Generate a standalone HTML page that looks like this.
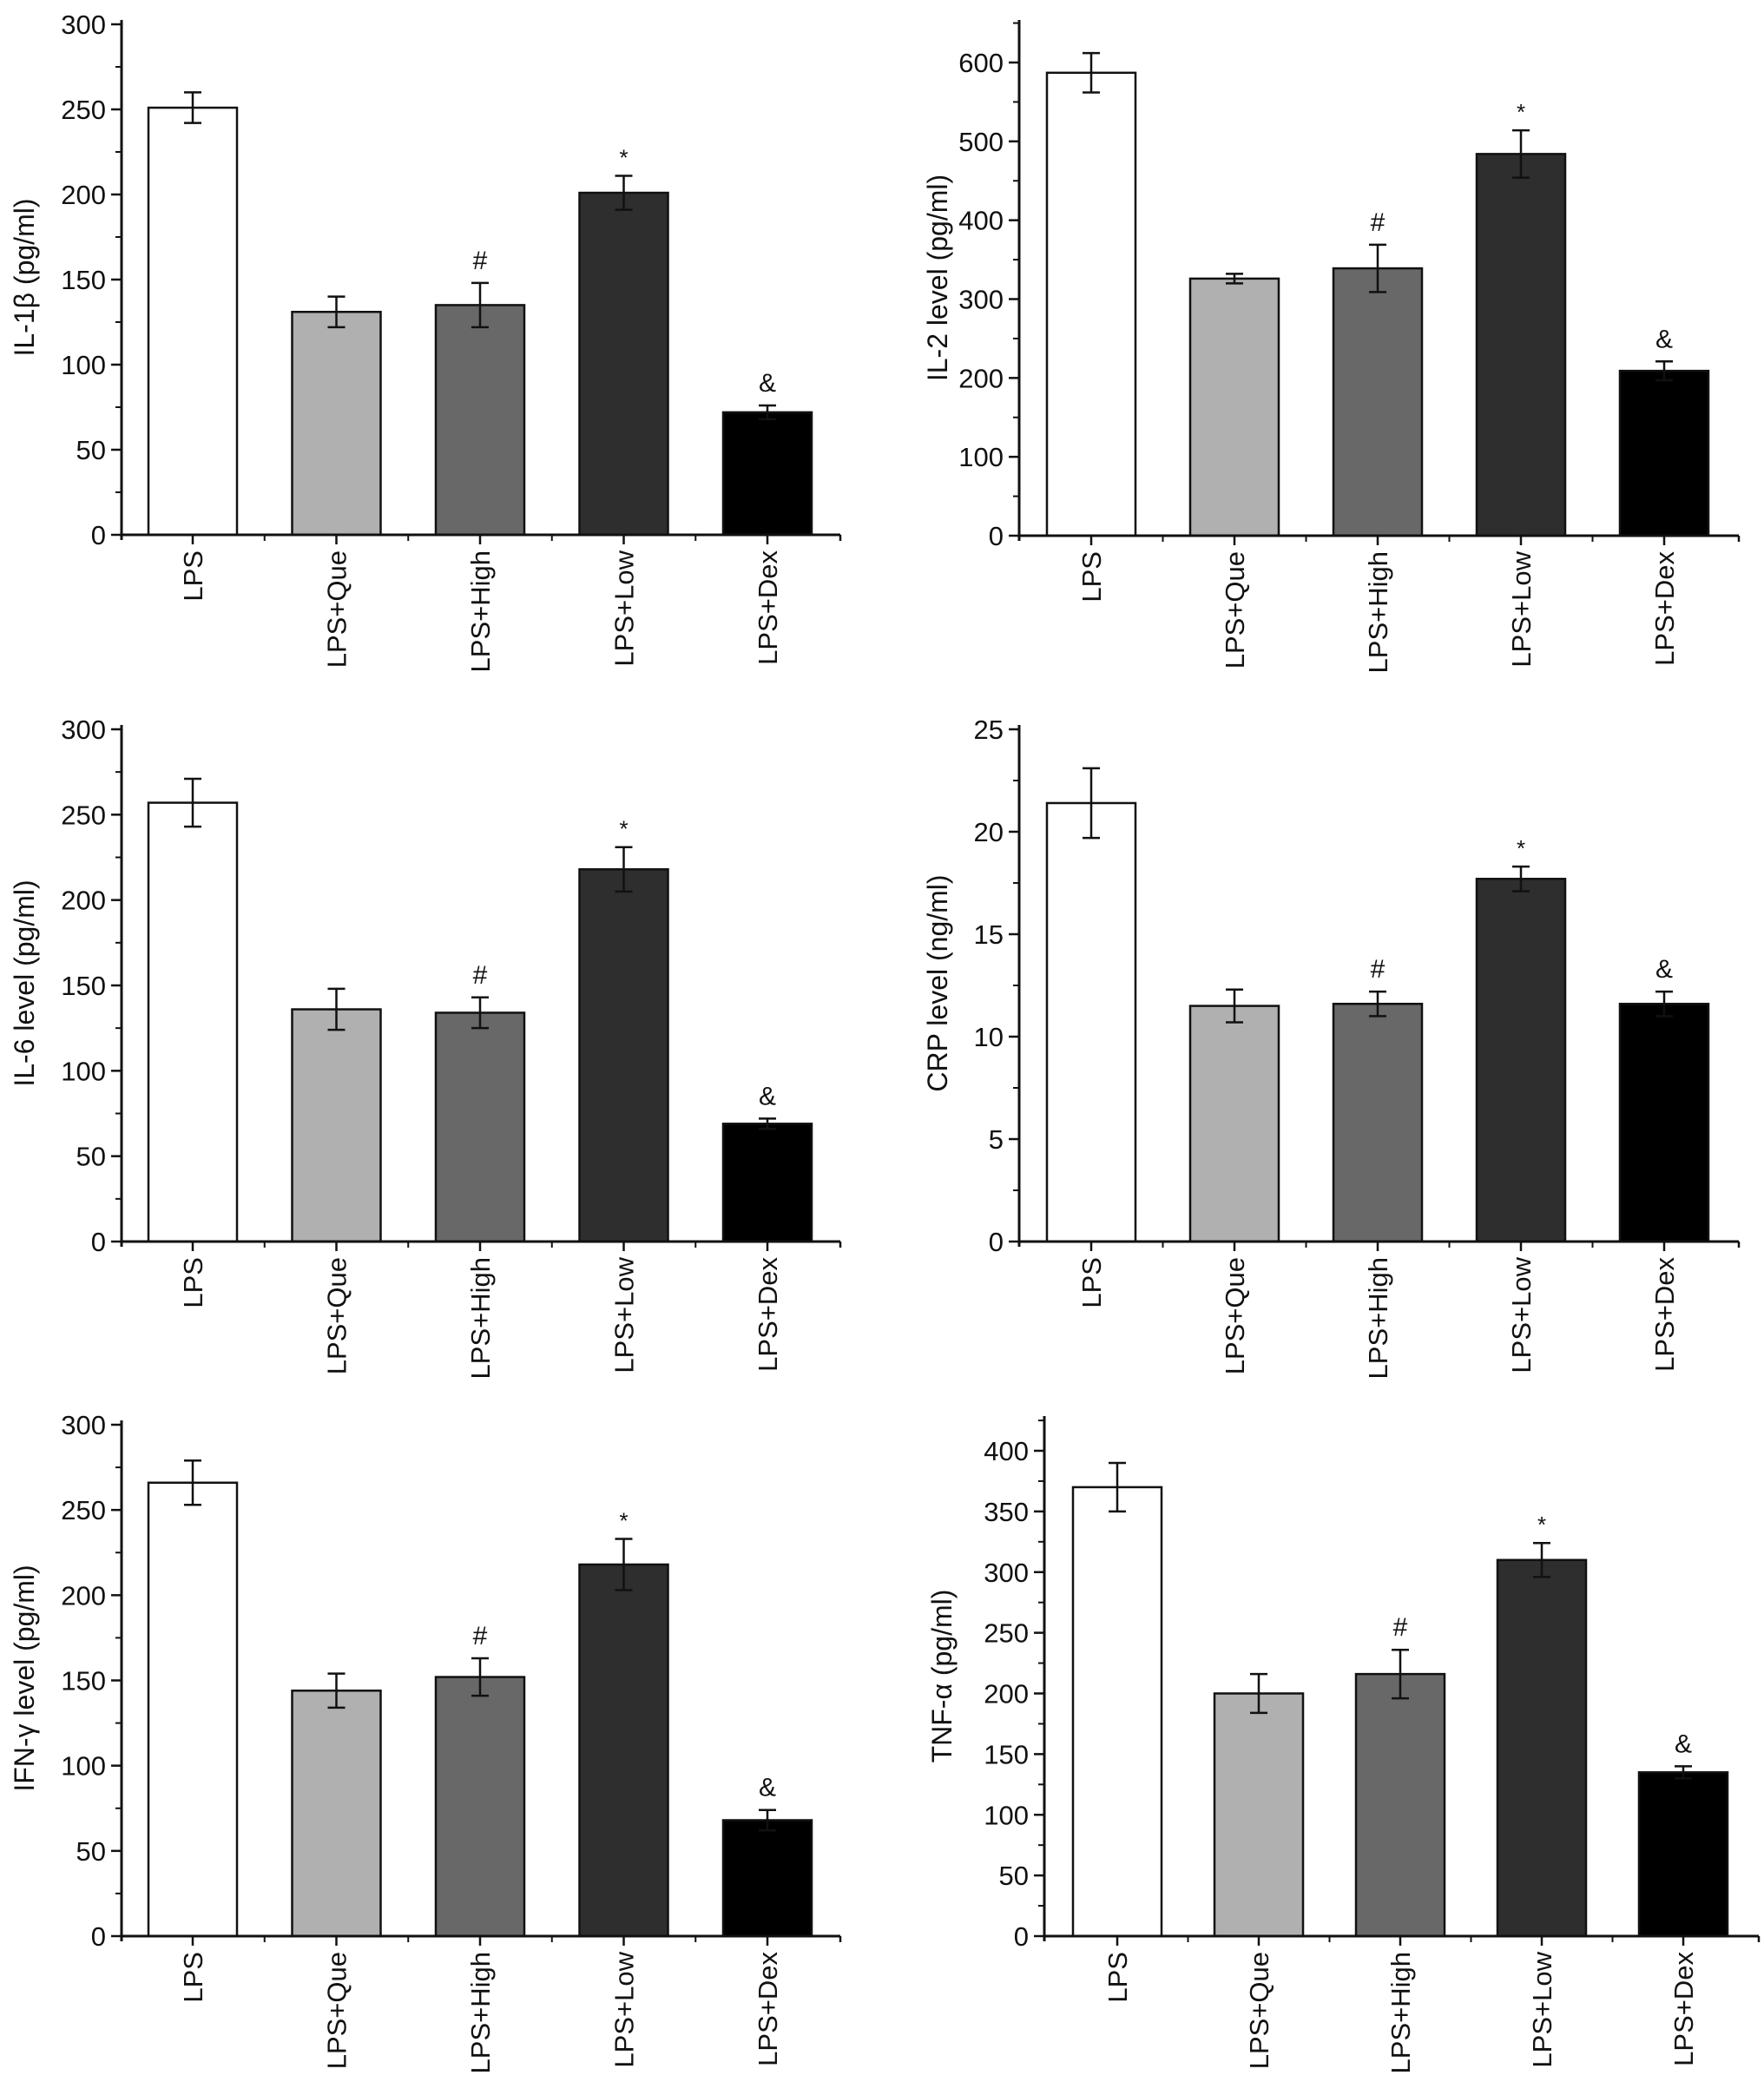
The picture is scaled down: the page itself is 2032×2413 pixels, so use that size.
<!DOCTYPE html>
<html><head><meta charset="utf-8"><style>
html,body{margin:0;padding:0;background:#fff}
svg{display:block}
text{font-family:"Liberation Sans",Arial,sans-serif;fill:#111}
</style></head><body>
<svg id="fig" width="2032" height="2413" viewBox="0 0 2032 2413" xmlns="http://www.w3.org/2000/svg"></svg>
<script>
const categories = ["LPS","LPS+Que","LPS+High","LPS+Low","LPS+Dex"];
const marks = ["","","#","*","&"];
const il1bValues = [251,131,135,201,72];
const il1bErrors = [9,9,13,10,4];
const il2Values = [587,326,339,484,209];
const il2Errors = [25,6,30,30,12];
const il6Values = [257,136,134,218,69];
const il6Errors = [14,12,9,13,3];
const crpValues = [21.4,11.5,11.6,17.7,11.6];
const crpErrors = [1.7,0.8,0.6,0.6,0.6];
const ifngValues = [266,144,152,218,68];
const ifngErrors = [13,10,11,15,6];
const tnfaValues = [370,200,216,310,135];
const tnfaErrors = [20,16,20,14,5];
const il1bTicks = [0,50,100,150,200,250,300];
const il2Ticks = [0,100,200,300,400,500,600];
const il6Ticks = [0,50,100,150,200,250,300];
const crpTicks = [0,5,10,15,20,25];
const ifngTicks = [0,50,100,150,200,250,300];
const tnfaTicks = [0,50,100,150,200,250,300,350,400];
const fills = ["#ffffff","#b0b0b0","#686868","#2e2e2e","#000000"];

const NS="http://www.w3.org/2000/svg";
const svg=document.getElementById('fig');
function mk(tag,attrs,parent){const e=document.createElementNS(NS,tag);for(const k in attrs)e.setAttribute(k,attrs[k]);(parent||svg).appendChild(e);return e;}

const panels=[
 {id:"il1b",title:"IL-1β (pg/ml)",vals:il1bValues,errs:il1bErrors,ticks:il1bTicks,ax:140,xEnd:968,y0:616,yRef:28,top:23,c0:222,sp:165.5,tx:28},
 {id:"il2",title:"IL-2 level (pg/ml)",vals:il2Values,errs:il2Errors,ticks:il2Ticks,ax:1174,xEnd:2003,y0:617,yRef:72,top:23,c0:1257,sp:165,tx:1080},
 {id:"il6",title:"IL-6 level (pg/ml)",vals:il6Values,errs:il6Errors,ticks:il6Ticks,ax:140,xEnd:968,y0:1430,yRef:840,top:835,c0:222,sp:165.5,tx:28},
 {id:"crp",title:"CRP level (ng/ml)",vals:crpValues,errs:crpErrors,ticks:crpTicks,ax:1174,xEnd:2003,y0:1430,yRef:840,top:835,c0:1257,sp:165,tx:1080},
 {id:"ifng",title:"IFN-γ level (pg/ml)",vals:ifngValues,errs:ifngErrors,ticks:ifngTicks,ax:140,xEnd:968,y0:2230,yRef:1641,top:1636,c0:222,sp:165.5,tx:28},
 {id:"tnfa",title:"TNF-α (pg/ml)",vals:tnfaValues,errs:tnfaErrors,ticks:tnfaTicks,ax:1203,xEnd:2026,y0:2230,yRef:1671,top:1631,c0:1287,sp:163,tx:1085}
];

panels.forEach(p=>{
 const g=mk('g',{});
 
 
 const maxT=p.ticks[p.ticks.length-1];
 const k=(p.y0-p.yRef)/maxT;
 const y=v=>p.y0-v*k;
 const x=i=>p.c0+i*p.sp;
 const bw=102;
 p.vals.forEach((v,i)=>{
  const r=mk('rect',{x:x(i)-bw/2,y:y(v),width:bw,height:p.y0-y(v),fill:fills[i],stroke:"#111","stroke-width":2.5},g);
  
  
  const e=p.errs[i];
  const eb=mk('path',{d:`M${x(i)},${y(v+e)}V${y(v-e)}M${x(i)-10},${y(v+e)}H${x(i)+10}M${x(i)-10},${y(v-e)}H${x(i)+10}`,stroke:"#111","stroke-width":2.5,fill:"none"},g);
  
  
  if(marks[i]){
   const m=mk('text',{x:x(i),y:y(v+e)-(marks[i]==="*"?12:16),"text-anchor":"middle","font-size":marks[i]==="*"?26:30},g);
   m.textContent=marks[i];
   
   
  }
 });
 const ya=mk('line',{x1:p.ax,y1:p.top,x2:p.ax,y2:p.y0+6,stroke:"#111","stroke-width":3},g);
 
 
 const xa=mk('line',{x1:p.ax,y1:p.y0,x2:p.xEnd,y2:p.y0,stroke:"#111","stroke-width":3},g);
 
 
 mk('line',{x1:p.xEnd,y1:p.y0,x2:p.xEnd,y2:p.y0+7,stroke:"#111","stroke-width":2.5},g);
 const step=p.ticks[1]-p.ticks[0];
 p.ticks.forEach((t,j)=>{
  mk('line',{x1:p.ax-12,y1:y(t),x2:p.ax,y2:y(t),stroke:"#111","stroke-width":2.5},g);
  if(j<p.ticks.length-1) mk('line',{x1:p.ax-7,y1:y(t+step/2),x2:p.ax,y2:y(t+step/2),stroke:"#111","stroke-width":2},g);
  const tl=mk('text',{x:p.ax-18,y:y(t)+11,"text-anchor":"end","font-size":31},g);
  tl.textContent=t;
  
  
 });
 if(y(maxT+step/2)>=p.top-1) mk('line',{x1:p.ax-7,y1:y(maxT+step/2),x2:p.ax,y2:y(maxT+step/2),stroke:"#111","stroke-width":2},g);
 categories.forEach((c,i)=>{
  mk('line',{x1:x(i),y1:p.y0,x2:x(i),y2:p.y0+11,stroke:"#111","stroke-width":2.5},g);
  if(i<categories.length-1) mk('line',{x1:x(i)+p.sp/2,y1:p.y0,x2:x(i)+p.sp/2,y2:p.y0+7,stroke:"#111","stroke-width":2},g);
  const cl=mk('text',{x:0,y:0,"text-anchor":"end","font-size":31,transform:`translate(${x(i)+11},${p.y0+18}) rotate(-90)`},g);
  cl.textContent=c;
  
  
 });
 const my=(p.top+p.y0)/2;
 const tt=mk('text',{x:0,y:0,"text-anchor":"middle","font-size":32,transform:`translate(${p.tx+11},${my}) rotate(-90)`},g);
 tt.textContent=p.title;
 
 
});
</script>
</body></html>
